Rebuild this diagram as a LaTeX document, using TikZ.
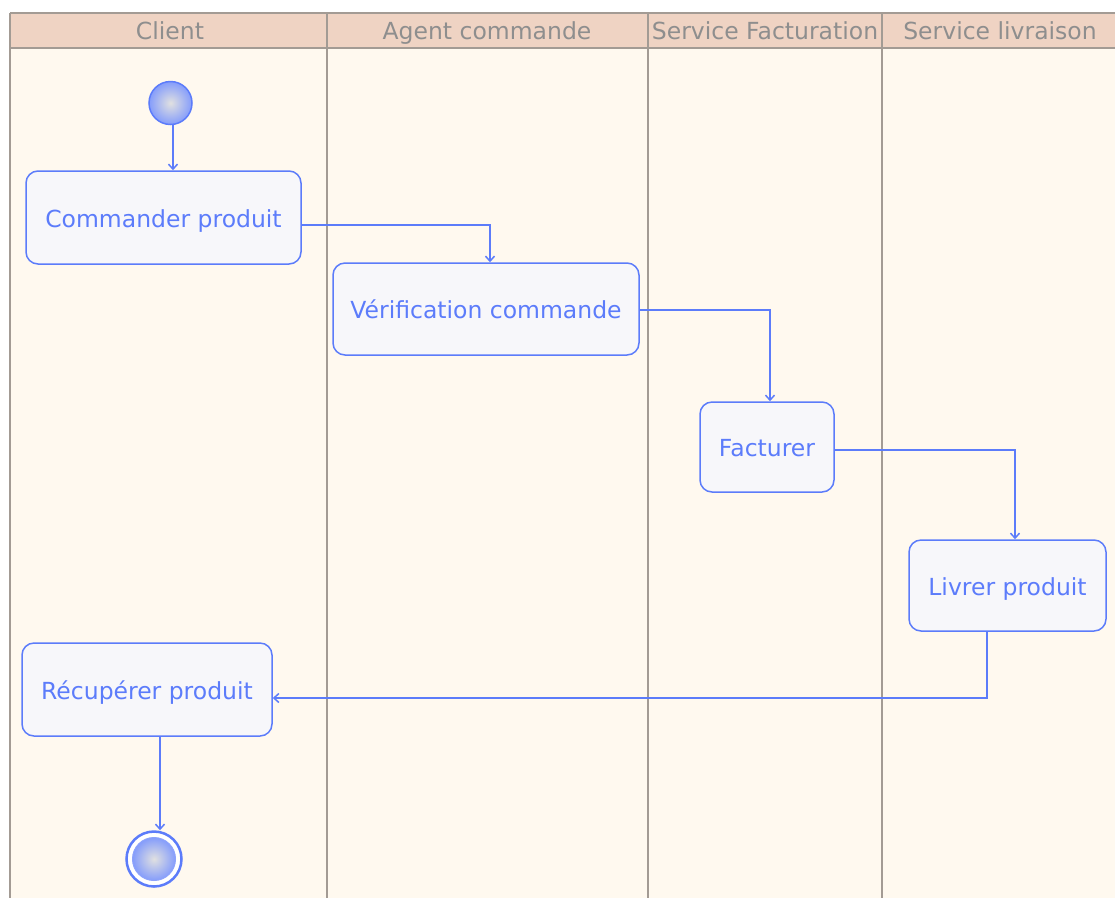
\documentclass[tikz,border=0pt]{standalone}
\usepackage{pgf, tikz}
\usepackage{fontspec}
\setmainfont{DejaVu Sans}
\usetikzlibrary{arrows, arrows.meta}

\definecolor{bodyfill}{HTML}{FFF9EF}
\definecolor{headfill}{HTML}{EFD3C3}
\definecolor{lanegray}{HTML}{A39B94}
\definecolor{headtext}{HTML}{8E8E8E}
\definecolor{umlblue}{HTML}{5C7CFA}
\definecolor{actfill}{HTML}{F7F7FA}

\begin{document}
\begin{tikzpicture} [x=1pt, y=-1pt, >={Straight Barb[length=5pt, width=9pt]},
  lanehead/.style={text=headtext, anchor=base, font=\fontsize{23.5}{27}\selectfont},
  action/.style={rectangle, rounded corners=12, draw=umlblue, line width=1.5, fill=actfill,
                 text=umlblue, font=\fontsize{23.5}{27}\selectfont, inner sep=0,
                 text height=19, text depth=0},
  link/.style={->, draw=umlblue, line width=1.5}]
\useasboundingbox (0, 0) rectangle (1115, 898);

% couloirs
\fill[bodyfill] (10, 48) rectangle (1115, 898);
\fill[headfill] (10, 13) rectangle (1115, 48);
\draw[lanegray, line width=2.5] (10, 13) -- (1115, 13) (10, 48) -- (1115, 48);
\draw[lanegray, line width=2] (10, 13) -- (10, 898) (327, 13) -- (327, 898)
      (648, 13) -- (648, 898) (882, 13) -- (882, 898);

\path (170, 39) node[lanehead] (h1) {Client}
      (487, 39) node[lanehead] (h2) {Agent commande}
      (765, 39) node[lanehead] (h3) {Service Facturation}
      (1000, 39) node[lanehead] (h4) {Service livraison};

% activites
\path (170.5, 103) node[circle, minimum size=43, inner sep=0, draw=umlblue, line width=1.5,
                        inner color=black!12, outer color=umlblue!75] (init) {}
      (163.5, 217.5) node[action, minimum width=275, minimum height=93] (cmd) {Commander produit}
      (486, 309) node[action, minimum width=306, minimum height=92] (verif) {Vérification commande}
      (767, 447) node[action, minimum width=134, minimum height=90] (fact) {Facturer}
      (1007.5, 585.5) node[action, minimum width=197, minimum height=91] (livr) {Livrer produit}
      (147, 689.5) node[action, minimum width=250, minimum height=93] (recup) {Récupérer produit}
      (154, 859) node[circle, minimum size=55, inner sep=0, draw=umlblue, line width=2.5, fill=white] (final) {};
\path (final.center) node[circle, minimum size=43, inner sep=0, draw=umlblue!70, line width=1,
                          inner color=black!12, outer color=umlblue!75] (finalin) {};

% transitions
\draw[link] ([xshift=2.5]init.south) -- ([xshift=2.5]init.south |- cmd.north);
\draw[link] ([yshift=-7.5]cmd.east) -| ([xshift=4]verif.north);
\draw[link] ([yshift=-1]verif.east) -| ([xshift=3]fact.north);
\draw[link] ([yshift=-3]fact.east) -| ([xshift=7.5]livr.north);
\draw[link] ([xshift=-20.5]livr.south) |- ([yshift=-8.5]recup.east);
\draw[link] ([xshift=13]recup.south) -- ([xshift=13]recup.south |- final.north);
\end{tikzpicture}
\end{document}
